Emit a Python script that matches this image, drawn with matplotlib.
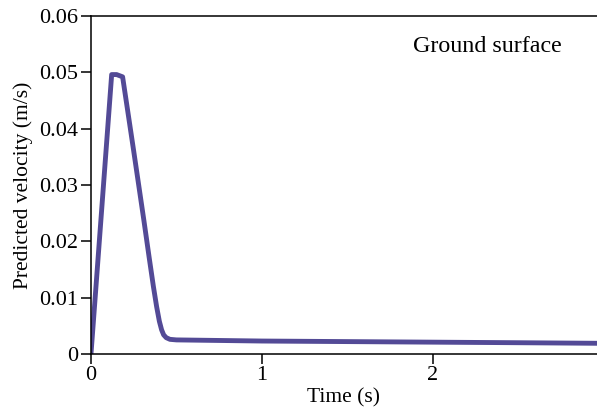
import matplotlib

matplotlib.use("Agg")
import matplotlib.pyplot as plt
from matplotlib.ticker import FixedLocator, FuncFormatter

# predicted ground-surface velocity
time_s = [0.0, 0.121, 0.15, 0.185, 0.22, 0.25, 0.28, 0.31, 0.34, 0.365,
          0.384, 0.40, 0.413, 0.425, 0.44, 0.462, 0.50, 1.0, 1.5,
          2.0, 2.5, 2.96]
velocity = [0.0, 0.0496, 0.0496, 0.0492, 0.0421, 0.0360, 0.0298, 0.0236,
            0.0172, 0.0120, 0.0084, 0.0058, 0.0043, 0.0034, 0.0029, 0.0026,
            0.0025, 0.0023, 0.0022, 0.0021, 0.0020, 0.0019]
x_ticks = [0, 1, 2]
y_ticks = [0, 0.01, 0.02, 0.03, 0.04, 0.05, 0.06]

plt.rcParams["font.family"] = ["Liberation Serif", "DejaVu Serif"]

fig = plt.figure(figsize=(5.97, 4.12), dpi=100)
ax = fig.add_axes([0.1524, 0.1408, 0.8476, 0.8204])
ax.plot(time_s, velocity, color="#534a96", lw=3.5, solid_joinstyle="round")

ax.set_xlim(0, 2.96)
ax.set_ylim(0, 0.06)
ax.xaxis.set_major_locator(FixedLocator(x_ticks))
ax.yaxis.set_major_locator(FixedLocator(y_ticks))
ax.yaxis.set_major_formatter(FuncFormatter(lambda v, _: "0" if v == 0 else f"{v:.2f}"))
ax.spines["right"].set_visible(False)
for side in ("left", "bottom", "top"):
    ax.spines[side].set_linewidth(1.1)
ax.tick_params(direction="out", length=7, width=1.1, labelsize=16, pad=2)

ax.set_xlabel("Time (s)", fontsize=15.5, labelpad=2)
ax.set_ylabel("Predicted velocity (m/s)", fontsize=15.5, labelpad=5)
ax.text(0.636, 0.911, "Ground surface", transform=ax.transAxes,
        ha="left", va="center", fontsize=17.3)

fig.savefig("out.png", dpi=100)
